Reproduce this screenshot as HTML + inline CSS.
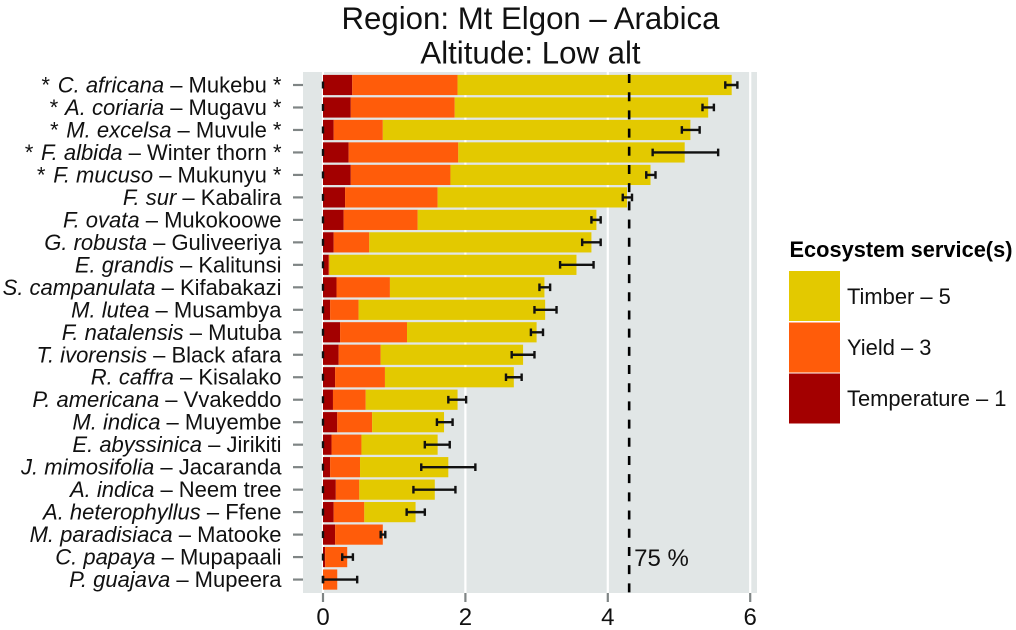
<!DOCTYPE html>
<html>
<head>
<meta charset="utf-8">
<style>
html,body{margin:0;padding:0;background:#fff;}
svg{display:block;font-family:"Liberation Sans",sans-serif;}
</style>
</head>
<body>
<svg id="chart" xmlns="http://www.w3.org/2000/svg" width="1016" height="630" viewBox="0 0 1016 630">
  <text x="530.5" y="29" font-size="31.2" text-anchor="middle" fill="#111">Region: Mt Elgon – Arabica</text>
  <text x="530.5" y="63.5" font-size="31.2" text-anchor="middle" fill="#111">Altitude: Low alt</text>
  <rect x="303" y="72" width="454" height="521" fill="#e1e6e6"/>
  <g id="grid"></g>
  <g id="bars"></g>
  <g id="errs"></g>
  <g id="yaxis"></g>
  <g id="xaxis"></g>
  <line id="refline" y1="74" y2="593" stroke="#000" stroke-width="2.6" stroke-dasharray="9 9.19"/>
  <text id="reflabel" y="566" font-size="24" fill="#111">75 %</text>
  <g>
    <text x="789.5" y="257" font-size="21.8" font-weight="bold" fill="#000">Ecosystem service(s)</text>
    <rect x="789" y="271" width="51" height="50" fill="#e3c900"/>
    <rect x="789" y="322.5" width="51" height="50" fill="#ff5c0a"/>
    <rect x="789" y="373.5" width="51" height="50" fill="#a30000"/>
    <text x="847" y="304" font-size="21.9" fill="#111">Timber – 5</text>
    <text x="847" y="355" font-size="21.9" fill="#111">Yield – 3</text>
    <text x="847" y="406" font-size="21.9" fill="#111">Temperature – 1</text>
  </g>
</svg>
<script>
const species = ["C. africana","A. coriaria","M. excelsa","F. albida","F. mucuso","F. sur","F. ovata","G. robusta","E. grandis","S. campanulata","M. lutea","F. natalensis","T. ivorensis","R. caffra","P. americana","M. indica","E. abyssinica","J. mimosifolia","A. indica","A. heterophyllus","M. paradisiaca","C. papaya","P. guajava"];
const localNames = ["Mukebu","Mugavu","Muvule","Winter thorn","Mukunyu","Kabalira","Mukokoowe","Guliveeriya","Kalitunsi","Kifabakazi","Musambya","Mutuba","Black afara","Kisalako","Vvakeddo","Muyembe","Jirikiti","Jacaranda","Neem tree","Ffene","Matooke","Mupapaali","Mupeera"];
const starred = [1,1,1,1,1,0,0,0,0,0,0,0,0,0,0,0,0,0,0,0,0,0,0];
const temperature = [0.41,0.39,0.15,0.36,0.39,0.31,0.29,0.15,0.08,0.19,0.10,0.24,0.22,0.17,0.14,0.20,0.12,0.10,0.18,0.15,0.17,0.03,0];
const yieldValues = [1.48,1.46,0.69,1.54,1.40,1.30,1.04,0.50,0.01,0.75,0.40,0.94,0.59,0.70,0.46,0.49,0.42,0.42,0.33,0.43,0.67,0.31,0.20];
const timber = [3.85,3.56,4.32,3.18,2.81,2.66,2.51,3.12,3.47,2.17,2.62,1.82,2.00,1.81,1.29,1.01,1.07,1.24,1.06,0.72,0,0,0];
const errLow = [5.65,5.33,5.04,4.63,4.54,4.21,3.77,3.64,3.33,3.04,2.97,2.92,2.65,2.57,1.76,1.60,1.43,1.38,1.27,1.175,0.81,0.27,0];
const errHigh = [5.82,5.49,5.29,5.55,4.67,4.34,3.90,3.90,3.80,3.19,3.28,3.09,2.97,2.79,2.01,1.82,1.78,2.14,1.86,1.43,0.875,0.42,0.48];
const xTicks = [0,2,4,6];
const referenceValue = 4.3;

const NS = "http://www.w3.org/2000/svg";
const xScale = v => 323 + v * 71.2;
const yScale = i => 85 + i * 22.48;
const BAR_H = 20.2;

function mk(parent, tag, attrs, text) {
  const el = document.createElementNS(NS, tag);
  for (const k in attrs) el.setAttribute(k, attrs[k]);
  if (text !== undefined) el.textContent = text;
  parent.appendChild(el);
  return el;
}

const grid = document.getElementById("grid");
const bars = document.getElementById("bars");
const errs = document.getElementById("errs");
const yaxis = document.getElementById("yaxis");
const xaxis = document.getElementById("xaxis");

xTicks.forEach(t => {
  const g = mk(grid, "line", {x1: xScale(t), x2: xScale(t), y1: 72, y2: 593, stroke: "#fff", "stroke-width": 2.2});
  
  
  const tick = mk(xaxis, "line", {x1: xScale(t), x2: xScale(t), y1: 593, y2: 602, stroke: "#7f8585", "stroke-width": 2.2});
  
  
  const lab = mk(xaxis, "text", {x: xScale(t), y: 625, "font-size": 24, "text-anchor": "middle", fill: "#111"}, String(t));
  
  
});

species.forEach((name, i) => {
  const y = yScale(i);
  const series = [[temperature[i], "#a30000", "temperature"], [yieldValues[i], "#ff5c0a", "yield"], [timber[i], "#e3c900", "timber"]];
  let acc = 0;
  series.forEach(s => {
    if (s[0] > 0) {
      const r = mk(bars, "rect", {x: xScale(acc), y: y - BAR_H / 2, width: xScale(acc + s[0]) - xScale(acc), height: BAR_H, fill: s[1]});
      
      
    }
    acc += s[0];
  });

  const zero = mk(errs, "line", {x1: xScale(0), x2: xScale(0), y1: y - 3.5, y2: y + 3.5, stroke: "#111", "stroke-width": 2.4});
  
  

  const lo = xScale(errLow[i]), hi = xScale(errHigh[i]);
  const eb = mk(errs, "path", {d: `M${lo} ${y-3.8}V${y+3.8}M${hi} ${y-3.8}V${y+3.8}M${lo} ${y}H${hi}`, stroke: "#111", "stroke-width": 2.4, fill: "none"});
  
  

  const tick = mk(yaxis, "line", {x1: 293, x2: 303, y1: y, y2: y, stroke: "#7f8585", "stroke-width": 2.2});
  
  

  const label = mk(yaxis, "text", {x: 281.5, y: y + 7.5, "font-size": 22, "text-anchor": "end", fill: "#111"});
  
  
  if (starred[i]) {
    mk(label, "tspan", {"font-style": "italic"}, "* ");
    mk(label, "tspan", {"font-style": "italic", dx: 2.5}, name);
  } else {
    mk(label, "tspan", {"font-style": "italic"}, name);
  }
  mk(label, "tspan", {}, " – " + localNames[i] + (starred[i] ? " *" : ""));
});

const refline = document.getElementById("refline");
refline.setAttribute("x1", xScale(referenceValue));
refline.setAttribute("x2", xScale(referenceValue));
document.getElementById("reflabel").setAttribute("x", xScale(referenceValue) + 5);
</script>
</body>
</html>
